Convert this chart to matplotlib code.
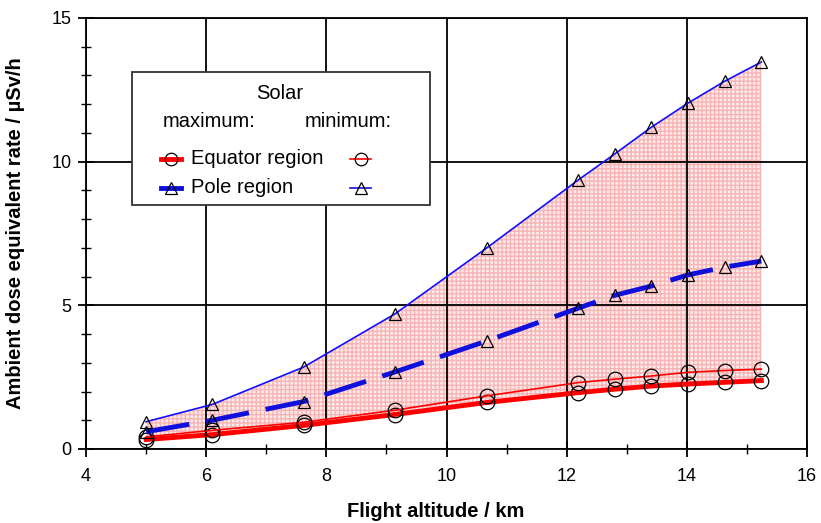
import numpy as np
import matplotlib.pyplot as plt
from matplotlib.lines import Line2D
from matplotlib.patches import Rectangle

plt.rcParams['font.family'] = ['Liberation Sans', 'DejaVu Sans']

# flight altitudes (km)
alt = [5.0, 6.1, 7.62, 9.14, 10.67, 12.19, 12.8, 13.41, 14.02, 14.63, 15.24]

equator_max = [0.33, 0.5, 0.82, 1.2, 1.62, 1.96, 2.08, 2.19, 2.26, 2.32, 2.38]
equator_min = [0.42, 0.65, 0.93, 1.35, 1.85, 2.31, 2.43, 2.54, 2.67, 2.73, 2.78]
pole_max = [0.6, 1.0, 1.65, 2.68, 3.76, 4.9, 5.35, 5.67, 6.06, 6.33, 6.54]
pole_min = [0.95, 1.55, 2.85, 4.7, 7.0, 9.36, 10.27, 11.2, 12.04, 12.8, 13.47]

fig = plt.figure(figsize=(8.21, 5.23), dpi=100)
ax = fig.add_axes([0.1048, 0.1415, 0.8782, 0.8241])

ax.fill_between(alt, equator_max, pole_min, facecolor='#fdeaea',
                hatch='++++', edgecolor='#f8b4b4', linewidth=0, zorder=1)

mk = dict(markerfacecolor='none', markeredgecolor='black', markeredgewidth=0.9)
ax.plot(alt, equator_max, color='red', lw=3.5, marker='o', ms=10.5, zorder=3, **mk)
ax.plot(alt, equator_min, color='red', lw=1.2, marker='o', ms=10.5, zorder=3, **mk)
ax.plot(alt, pole_max, color='#1010dd', lw=3.5, ls=(0, (9, 3.5)), marker='^', ms=9, zorder=3, **mk)
ax.plot(alt, pole_min, color='#1010ff', lw=1.2, marker='^', ms=9, zorder=3, **mk)

ax.set_xlim(4, 16)
ax.set_ylim(0, 15)
ax.set_xticks([4, 6, 8, 10, 12, 14, 16])
ax.set_xticks(np.arange(5, 16, 2), minor=True)
ax.set_yticks([0, 5, 10, 15])
ax.set_yticks([1, 2, 3, 4, 6, 7, 8, 9, 11, 12, 13, 14], minor=True)
ax.grid(True, which='major', color='black', lw=1.3, zorder=2)
ax.set_axisbelow(False)
ax.tick_params(which='major', direction='inout', length=11, width=1.3, labelsize=13)
ax.tick_params(axis='x', which='major', pad=8)
ax.tick_params(axis='y', which='major', pad=5)
ax.tick_params(which='minor', direction='inout', length=7, width=1.0)
for s in ax.spines.values():
    s.set_linewidth(1.3)

ax.set_xlabel('Flight altitude / km', fontsize=14.5, fontweight='bold')
ax.set_ylabel('Ambient dose equivalent rate / µSv/h', fontsize=14.5, fontweight='bold')
ax.xaxis.set_label_coords((436 - 86) / 721, -0.124)
ax.yaxis.set_label_coords(-0.085, 0.5)


# custom legend, positions given in pixels of the reference picture
def P(px, py):
    return (px - 86) / 721, (449 - py) / 431


x0, y0 = P(132, 205)
x1, y1 = P(430, 72)
ax.add_patch(Rectangle((x0, y0), x1 - x0, y1 - y0, transform=ax.transAxes,
                       facecolor='white', edgecolor='#333333', lw=1.3, zorder=5))
fs = 14.5
ax.text(*P(280, 94), 'Solar', transform=ax.transAxes, ha='center', va='center', fontsize=fs, zorder=6)
ax.text(*P(163, 122), 'maximum:', transform=ax.transAxes, ha='left', va='center', fontsize=fs, zorder=6)
ax.text(*P(305, 122), 'minimum:', transform=ax.transAxes, ha='left', va='center', fontsize=fs, zorder=6)

rows = [('Equator region', 'red', 'o', 159), ('Pole region', '#1010dd', '^', 188)]
for label, col, m, py in rows:
    a, b = P(161, py)
    c, _ = P(181, py)
    ax.add_line(Line2D([a, c], [b, b], transform=ax.transAxes, color=col, lw=3.5, zorder=6))
    ax.add_line(Line2D([(a + c) / 2], [b], transform=ax.transAxes, marker=m, ms=9 if m == 'o' else 8,
                       zorder=7, **mk))
    ax.text(*P(191, py), label, transform=ax.transAxes, ha='left', va='center', fontsize=fs, zorder=6)
    a, b = P(350, py)
    c, _ = P(371, py)
    ax.add_line(Line2D([a, c], [b, b], transform=ax.transAxes, color=col, lw=1.2, zorder=6))
    ax.add_line(Line2D([(a + c) / 2], [b], transform=ax.transAxes, marker=m, ms=9 if m == 'o' else 8,
                       zorder=7, **mk))

fig.savefig('out.png', dpi=100)
